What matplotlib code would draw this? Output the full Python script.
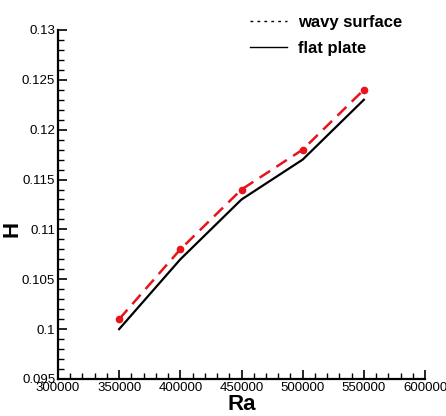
import numpy as np
import matplotlib.pyplot as plt
from matplotlib.lines import Line2D
from matplotlib.ticker import MultipleLocator

plt.rcParams['font.family'] = ['Liberation Sans', 'DejaVu Sans']

# data
ra = [350000, 400000, 450000, 500000, 550000]
h_wavy = [0.101, 0.108, 0.114, 0.118, 0.124]
h_flat = [0.100, 0.107, 0.113, 0.117, 0.123]

fig = plt.figure(figsize=(4.46, 4.16), dpi=100)
ax = fig.add_axes([0.130, 0.089, 0.823, 0.839])

ax.plot(ra, h_wavy, color='#e8141c', linestyle=(0, (5, 3)), linewidth=1.8,
        marker='o', markersize=4.5)
ax.plot(ra, h_flat, color='black', linewidth=1.6)

ax.set_xlim(300000, 600000)
ax.set_ylim(0.095, 0.13)
ax.xaxis.set_major_locator(MultipleLocator(50000))
ax.xaxis.set_minor_locator(MultipleLocator(10000))
ax.yaxis.set_minor_locator(MultipleLocator(0.001))
ax.set_yticks([0.095, 0.1, 0.105, 0.11, 0.115, 0.12, 0.125, 0.13])
ax.set_yticklabels(['0.095', '0.1', '0.105', '0.11', '0.115', '0.12', '0.125', '0.13'])

# spines
ax.spines['right'].set_visible(False)
ax.spines['top'].set_visible(False)
ax.spines['left'].set_linewidth(1.6)
ax.spines['bottom'].set_linewidth(1.6)

ax.tick_params(which='major', direction='in', length=6.5, width=1.2,
               labelsize=9.5, pad=2)
ax.tick_params(which='minor', direction='in', length=4, width=1.0)

ax.set_xlabel('Ra', fontsize=16, fontweight='bold', labelpad=0)
ax.set_ylabel('H', fontsize=16, fontweight='bold')
ax.yaxis.set_label_coords(-0.098, 0.43)

# legend (shown in black like the original)
handles = [Line2D([], [], color='black', linestyle=(0, (2, 3)), linewidth=1),
           Line2D([], [], color='black', linewidth=1)]
fig.legend(handles, ['wavy surface', 'flat plate'], loc='upper left',
           bbox_to_anchor=(0.527, 1.0), frameon=False, handlelength=2.2,
           handletextpad=0.7, prop={'weight': 'bold', 'size': 12},
           labelspacing=0.65)

plt.savefig('out.png', dpi=100)
